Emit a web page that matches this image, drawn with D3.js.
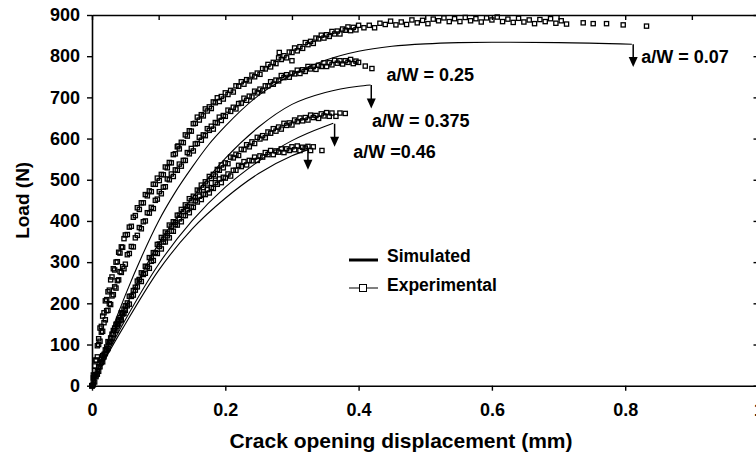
<!DOCTYPE html>
<html><head><meta charset="utf-8">
<script src="https://cdn.jsdelivr.net/npm/d3@7"></script>
<style>
body{margin:0;background:#fff}
text{font-family:"Liberation Sans",Arial,Helvetica,sans-serif;font-weight:bold;fill:#000}
</style>
</head><body>
<svg id="chart" width="756" height="458"></svg>
<script>
// ---- data ----
const xTicks = [0, 0.2, 0.4, 0.6, 0.8, 1];
const xTickLabels = ["0", "0.2", "0.4", "0.6", "0.8", "1"];
const xMinorTicks = [0, 0.1, 0.2, 0.3, 0.4, 0.5, 0.6, 0.7, 0.8, 0.9, 1];
const yTicks = [0, 100, 200, 300, 400, 500, 600, 700, 800, 900];
const xTitle = "Crack opening displacement (mm)";
const yTitle = "Load (N)";

// simulated curves [COD mm, load N]
const sim007 = [[0,0],[0.025,115],[0.05,220],[0.075,315],[0.1,400],[0.125,470],[0.15,530],[0.175,585],[0.2,630],[0.25,705],[0.3,755],[0.35,790],[0.4,812],[0.45,824],[0.5,830],[0.55,833],[0.6,834],[0.7,833],[0.81,829]];
const sim025 = [[0,0],[0.025,100],[0.05,190],[0.1,345],[0.15,455],[0.2,552],[0.25,628],[0.3,683],[0.35,712],[0.4,727],[0.418,730]];
const sim0375 = [[0,0],[0.025,85],[0.05,160],[0.1,295],[0.15,400],[0.2,482],[0.25,545],[0.3,595],[0.35,630],[0.362,637]];
const sim046 = [[0,0],[0.025,80],[0.05,150],[0.1,280],[0.15,380],[0.2,455],[0.25,515],[0.3,558],[0.322,572]];

// experimental points [COD mm, load N]
const exp007 = [[0,0],[0.002,19],[0.004,48],[0.006,62],[0.008,97],[0.01,114],[0.012,140],[0.014,144],[0.016,169],[0.018,177],[0.02,206],[0.022,209],[0.024,228],[0.026,232],[0.028,257],[0.03,264],[0.032,284],[0.034,281],[0.036,300],[0.038,301],[0.04,324],[0.042,322],[0.044,337],[0.046,336],[0.048,357],
[0.05,366],[0.053,367],[0.056,385],[0.059,387],[0.062,409],[0.065,413],[0.068,432],[0.071,428],[0.074,444],[0.077,444],[0.08,464],[0.083,461],[0.086,473],[0.089,471],[0.092,489],[0.095,489],[0.098,504],[0.101,498],[0.104,513],[0.107,512],[0.11,531],[0.113,529],[0.116,542],[0.119,541],[0.122,561],[0.125,563],[0.128,580],[0.131,575],[0.134,591],[0.137,590],[0.14,609],[0.143,606],[0.146,619],[0.149,618],[0.152,636],[0.155,637],[0.158,652],[0.161,645],[0.164,658],[0.167,655],[0.17,672],[0.173,667],[0.176,677],[0.179,673],[0.182,689],[0.185,687],[0.188,699],[0.191,690],[0.194,702],[0.197,696],
[0.2,711],[0.204,707],[0.208,717],[0.212,713],[0.216,728],[0.22,727],[0.224,738],[0.228,732],[0.232,743],[0.236,740],[0.24,754],[0.244,750],[0.248,759],[0.252,756],[0.256,770],[0.26,769],[0.264,780],[0.268,774],[0.272,785],[0.276,782],[0.28,796],[0.284,792],[0.288,801],[0.292,796],[0.296,810],[0.3,809],[0.304,820],[0.308,813],[0.312,823],[0.316,819],[0.32,833],[0.324,828],[0.328,836],[0.332,831],[0.336,844],[0.34,842],[0.344,851],[0.348,844],[0.352,852],[0.356,848],[0.36,860],[0.364,854],[0.368,861],[0.372,854],[0.376,866],[0.38,863],[0.384,871],[0.388,862],[0.392,870],[0.396,864],
[0.4,875],[0.408,869],[0.416,875],[0.424,869],[0.432,880],[0.44,877],[0.448,885],[0.456,876],[0.464,883],[0.472,877],[0.48,888],[0.488,881],[0.496,887],[0.504,879],[0.512,890],[0.52,886],[0.528,893],[0.536,884],[0.544,891],[0.552,884],[0.56,894],[0.568,886],[0.576,891],[0.584,883],[0.592,893],[0.6,888],[0.608,895],[0.616,884],[0.624,890],[0.632,882],[0.64,892],[0.648,883],[0.656,888],[0.664,879],[0.672,889],[0.68,884],[0.688,891],[0.696,880],[0.704,886],[0.712,878],
[0.737,881],[0.752,879],[0.772,879],[0.797,876],[0.832,873],[0.281,809],[0.3,789],[0.129,582]];
const exp025 = [[0,0],[0.002,26],[0.004,37],[0.006,62],[0.008,70],[0.01,100],[0.012,108],[0.014,130],[0.016,132],[0.018,153],[0.02,160],[0.022,182],[0.024,183],[0.026,199],[0.028,197],[0.03,218],[0.032,221],[0.034,240],[0.036,237],[0.038,255],[0.04,257],[0.042,277],[0.044,275],[0.046,289],[0.048,284],
[0.05,295],[0.053,318],[0.056,321],[0.059,338],[0.062,337],[0.065,359],[0.068,365],[0.071,384],[0.074,381],[0.077,398],[0.08,400],[0.083,420],[0.086,419],[0.089,433],[0.092,430],[0.095,450],[0.098,453],[0.101,471],[0.104,466],[0.107,482],[0.11,483],[0.113,502],[0.116,500],[0.119,514],[0.122,508],[0.125,524],[0.128,523],[0.131,538],[0.134,533],[0.137,547],[0.14,547],[0.143,566],[0.146,563],[0.149,576],[0.152,570],[0.155,587],[0.158,588],[0.161,603],[0.164,596],[0.167,609],[0.17,607],[0.173,624],[0.176,620],[0.179,630],[0.182,623],[0.185,639],[0.188,638],[0.191,652],[0.194,644],[0.197,656],
[0.2,654],[0.204,669],[0.208,666],[0.212,676],[0.216,672],[0.22,685],[0.224,686],[0.228,698],[0.232,693],[0.236,703],[0.24,701],[0.244,715],[0.248,711],[0.252,720],[0.256,716],[0.26,728],[0.264,728],[0.268,738],[0.272,732],[0.276,742],[0.28,740],[0.284,753],[0.288,748],[0.292,755],[0.296,749],[0.3,759],[0.304,757],[0.308,766],[0.312,758],[0.316,767],[0.32,763],[0.324,775],[0.328,769],[0.332,775],[0.336,768],[0.34,778],[0.344,775],[0.348,784],[0.352,775],[0.356,784],[0.36,779],[0.364,790],[0.368,783],[0.372,789],[0.376,781],[0.38,789],[0.384,785],[0.388,792],[0.392,782],[0.396,788],[0.4,785],[0.41,776],[0.42,770]];
const exp0375 = [[0,0],[0.002,2],[0.004,24],[0.006,22],[0.008,35],[0.01,35],[0.012,55],[0.014,56],[0.016,73],[0.018,70],[0.02,87],[0.022,86],[0.024,107],[0.026,104],[0.028,116],[0.03,115],[0.032,134],[0.034,134],[0.036,149],[0.038,145],[0.04,161],[0.042,158],[0.044,177],[0.046,174],[0.048,186],
[0.05,194],[0.053,194],[0.056,217],[0.059,217],[0.062,231],[0.065,232],[0.068,254],[0.071,257],[0.074,274],[0.077,272],[0.08,290],[0.083,289],[0.086,311],[0.089,310],[0.092,323],[0.095,323],[0.098,343],[0.101,344],[0.104,360],[0.107,356],[0.11,373],[0.113,370],[0.116,390],[0.119,387],[0.122,398],[0.125,396],[0.128,414],[0.131,414],[0.134,428],[0.137,423],[0.14,439],[0.143,435],[0.146,454],[0.149,449],[0.152,460],[0.155,457],[0.158,475],[0.161,473],[0.164,487],[0.167,481],[0.17,495],[0.173,490],[0.176,508],[0.179,503],[0.182,513],[0.185,509],[0.188,525],[0.191,523],[0.194,536],[0.197,529],
[0.2,541],[0.204,539],[0.208,555],[0.212,553],[0.216,562],[0.22,559],[0.224,574],[0.228,573],[0.232,585],[0.236,580],[0.24,592],[0.244,588],[0.248,603],[0.252,599],[0.256,607],[0.26,602],[0.264,616],[0.268,613],[0.272,624],[0.276,618],[0.28,628],[0.284,623],[0.288,637],[0.292,632],[0.296,638],[0.3,633],[0.304,645],[0.308,641],[0.312,650],[0.316,643],[0.32,651],[0.324,645],[0.328,657],[0.332,651],[0.336,656],[0.34,649],[0.344,660],[0.348,655],[0.352,663],[0.356,654],[0.36,662],[0.366,654],[0.372,662],[0.38,661]];
const exp046 = [[0,0],[0.002,13],[0.004,9],[0.006,26],[0.008,28],[0.01,46],[0.012,46],[0.014,63],[0.016,58],[0.018,76],[0.02,78],[0.022,94],[0.024,90],[0.026,106],[0.028,107],[0.03,125],[0.032,124],[0.034,140],[0.036,134],[0.038,150],[0.04,150],[0.042,165],[0.044,160],[0.046,175],[0.048,176],
[0.05,183],[0.053,201],[0.056,198],[0.059,217],[0.062,220],[0.065,239],[0.068,240],[0.071,258],[0.074,253],[0.077,270],[0.08,273],[0.083,289],[0.086,285],[0.089,302],[0.092,304],[0.095,322],[0.098,321],[0.101,338],[0.104,332],[0.107,349],[0.11,349],[0.113,364],[0.116,359],[0.119,375],[0.122,375],[0.125,391],[0.128,390],[0.131,405],[0.134,398],[0.137,413],[0.14,413],[0.143,427],[0.146,420],[0.149,434],[0.152,433],[0.155,449],[0.158,446],[0.161,460],[0.164,452],[0.167,465],[0.17,464],[0.173,476],[0.176,468],[0.179,481],[0.182,479],[0.185,493],[0.188,489],[0.191,502],[0.194,493],[0.197,506],
[0.2,504],[0.204,514],[0.208,509],[0.212,523],[0.216,523],[0.22,535],[0.224,532],[0.228,544],[0.232,536],[0.236,547],[0.24,546],[0.244,555],[0.248,547],[0.252,558],[0.256,555],[0.26,566],[0.264,561],[0.268,571],[0.272,561],[0.276,570],[0.28,567],[0.284,575],[0.288,566],[0.292,575],[0.296,571],[0.3,580],[0.304,573],[0.308,582],[0.312,571],[0.316,579],[0.32,577],[0.324,581],[0.328,571],[0.332,580],[0.345,571]];

// failure arrows: x position, start load, tip load
const arrowX = [0.812, 0.419, 0.364, 0.324];
const arrowFrom = [829, 730, 636, 574];
const arrowTo = [774, 673, 580, 524];
// annotation labels
const annText = ["a/W = 0.07", "a/W = 0.25", "a/W = 0.375", "a/W =0.46"];
const annX = [0.824, 0.442, 0.42, 0.392];
const annY = [784, 739, 629, 552];

const legendLabels = ["Simulated", "Experimental"];

// ---- drawing ----
const svg = d3.select("#chart");
const x = d3.scaleLinear().domain([0, 1]).range([92, 758.5]);
const y = d3.scaleLinear().domain([0, 900]).range([385.7, 15]);

const line = d3.line().x(d => x(d[0])).y(d => y(d[1])).curve(d3.curveMonotoneX);

[sim007, sim025, sim0375, sim046].forEach(s => {
  svg.append("path").datum(s).attr("d", line)
    .attr("fill", "none").attr("stroke", "#000").attr("stroke-width", 1.1);
});

const sq = 4.2;
[exp007, exp025, exp0375, exp046].forEach(s => {
  svg.append("g").selectAll("rect").data(s).join("rect")
    .attr("x", d => x(d[0]) - sq / 2).attr("y", d => y(d[1]) - sq / 2)
    .attr("width", sq).attr("height", sq)
    .attr("fill", "none").attr("stroke", "#000").attr("stroke-width", 1.3);
});

const gBottom = svg.append("g").attr("transform", `translate(0,${y(0)})`)
  .call(d3.axisBottom(x).tickValues(xTicks).tickFormat((d, i) => xTickLabels[i]).tickSize(5).tickSizeOuter(0).tickPadding(13));
const gLeft = svg.append("g").attr("transform", `translate(${x(0)},0)`)
  .call(d3.axisLeft(y).tickValues(yTicks).tickSize(5).tickSizeOuter(0).tickPadding(7));
const gTop = svg.append("g").attr("transform", `translate(0,${y(900)})`)
  .call(d3.axisTop(x).tickValues(xMinorTicks).tickSize(-5).tickSizeOuter(0).tickFormat(""));
const gRight = svg.append("g").attr("transform", `translate(${x(1)},0)`)
  .call(d3.axisRight(y).tickValues(yTicks).tickSize(-5).tickSizeOuter(0).tickFormat(""));
[gBottom, gLeft, gTop, gRight].forEach(g => {
  g.selectAll("path.domain").attr("stroke", "#000").attr("stroke-width", 1.6);
  g.selectAll("line").attr("stroke", "#000").attr("stroke-width", 1.4);
  g.selectAll("text").attr("font-size", 18).attr("font-family", "Liberation Sans, Arial, sans-serif").attr("font-weight", "bold");
});

svg.append("text").attr("x", 401).attr("y", 448).attr("text-anchor", "middle")
  .attr("font-size", 21).text(xTitle);
svg.append("text").attr("transform", `translate(29,${(y(0) + y(900)) / 2}) rotate(-90)`)
  .attr("text-anchor", "middle").attr("font-size", 19).text(yTitle);

arrowX.forEach((ax, i) => {
  const px = x(ax), y0 = y(arrowFrom[i]), y1 = y(arrowTo[i]);
  svg.append("line").attr("x1", px).attr("x2", px).attr("y1", y0).attr("y2", y1 - 8)
    .attr("stroke", "#000").attr("stroke-width", 1.5);
  svg.append("path").attr("d", `M${px - 4.5},${y1 - 10}L${px + 4.5},${y1 - 10}L${px},${y1}Z`).attr("fill", "#000");
});

annText.forEach((t, i) => {
  svg.append("text").attr("x", x(annX[i])).attr("y", y(annY[i])).attr("font-size", 18).text(t);
});

const lg = svg.append("g");
lg.append("line").attr("x1", 349).attr("x2", 378).attr("y1", 260).attr("y2", 260).attr("stroke", "#000").attr("stroke-width", 3);
lg.append("text").attr("x", 387).attr("y", 262).attr("font-size", 17.5).text(legendLabels[0]);
lg.append("line").attr("x1", 349).attr("x2", 378).attr("y1", 288).attr("y2", 288).attr("stroke", "#000").attr("stroke-width", 1);
lg.append("rect").attr("x", 359.5).attr("y", 284.5).attr("width", 7).attr("height", 7).attr("fill", "#fff").attr("stroke", "#000").attr("stroke-width", 1);
lg.append("text").attr("x", 387).attr("y", 291).attr("font-size", 17.5).text(legendLabels[1]);
</script>
</body></html>
